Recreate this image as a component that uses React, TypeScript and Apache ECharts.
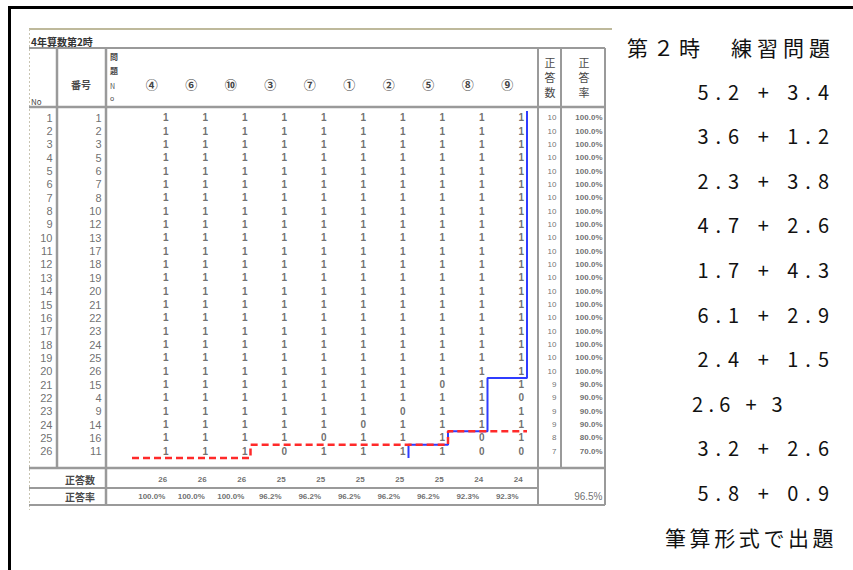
import React, { useEffect, useRef } from "react";
import * as echarts from "echarts";

// ---------- data ----------
const sheetTitle = "4年算数第2時";
const questionLabels = ["④", "⑥", "⑩", "③", "⑦", "①", "②", "⑤", "⑧", "⑨"];
const rowNos = [1, 2, 3, 4, 5, 6, 7, 8, 9, 10, 11, 12, 13, 14, 15, 16, 17, 18, 19, 20, 21, 22, 23, 24, 25, 26];
const studentIds = [1, 2, 3, 5, 6, 7, 8, 10, 12, 13, 17, 18, 19, 20, 21, 22, 23, 24, 25, 26, 15, 4, 9, 14, 16, 11];
const responses: number[][] = [
  [1, 1, 1, 1, 1, 1, 1, 1, 1, 1],
  [1, 1, 1, 1, 1, 1, 1, 1, 1, 1],
  [1, 1, 1, 1, 1, 1, 1, 1, 1, 1],
  [1, 1, 1, 1, 1, 1, 1, 1, 1, 1],
  [1, 1, 1, 1, 1, 1, 1, 1, 1, 1],
  [1, 1, 1, 1, 1, 1, 1, 1, 1, 1],
  [1, 1, 1, 1, 1, 1, 1, 1, 1, 1],
  [1, 1, 1, 1, 1, 1, 1, 1, 1, 1],
  [1, 1, 1, 1, 1, 1, 1, 1, 1, 1],
  [1, 1, 1, 1, 1, 1, 1, 1, 1, 1],
  [1, 1, 1, 1, 1, 1, 1, 1, 1, 1],
  [1, 1, 1, 1, 1, 1, 1, 1, 1, 1],
  [1, 1, 1, 1, 1, 1, 1, 1, 1, 1],
  [1, 1, 1, 1, 1, 1, 1, 1, 1, 1],
  [1, 1, 1, 1, 1, 1, 1, 1, 1, 1],
  [1, 1, 1, 1, 1, 1, 1, 1, 1, 1],
  [1, 1, 1, 1, 1, 1, 1, 1, 1, 1],
  [1, 1, 1, 1, 1, 1, 1, 1, 1, 1],
  [1, 1, 1, 1, 1, 1, 1, 1, 1, 1],
  [1, 1, 1, 1, 1, 1, 1, 1, 1, 1],
  [1, 1, 1, 1, 1, 1, 1, 0, 1, 1],
  [1, 1, 1, 1, 1, 1, 1, 1, 1, 0],
  [1, 1, 1, 1, 1, 1, 0, 1, 1, 1],
  [1, 1, 1, 1, 1, 0, 1, 1, 1, 1],
  [1, 1, 1, 1, 0, 1, 1, 1, 0, 1],
  [1, 1, 1, 0, 1, 1, 1, 1, 0, 0],
];
const studentCorrect = [10, 10, 10, 10, 10, 10, 10, 10, 10, 10, 10, 10, 10, 10, 10, 10, 10, 10, 10, 10, 9, 9, 9, 9, 8, 7];
const studentRate = [
  "100.0%", "100.0%", "100.0%", "100.0%", "100.0%", "100.0%", "100.0%", "100.0%", "100.0%", "100.0%",
  "100.0%", "100.0%", "100.0%", "100.0%", "100.0%", "100.0%", "100.0%", "100.0%", "100.0%", "100.0%",
  "90.0%", "90.0%", "90.0%", "90.0%", "80.0%", "70.0%",
];
const itemCorrect = [26, 26, 26, 25, 25, 25, 25, 25, 24, 24];
const itemRate = ["100.0%", "100.0%", "100.0%", "96.2%", "96.2%", "96.2%", "96.2%", "96.2%", "92.3%", "92.3%"];
const footerRows = ["正答数", "正答率"];
const overallRate = "96.5%";

const sideTitle = "第２時　練習問題";
const exercises = ["5.2 + 3.4", "3.6 + 1.2", "2.3 + 3.8", "4.7 + 2.6", "1.7 + 4.3", "6.1 + 2.9", "2.4 + 1.5", "2.6 + 3", "3.2 + 2.6", "5.8 + 0.9"];
const sideNote = "筆算形式で出題";

// ---------- helpers ----------
const CJK = '"Noto Sans CJK JP", "Noto Sans", sans-serif';
const TABLE_FONT = '"Liberation Sans", Arial, sans-serif';
const TXT = "#4a4a4a";

let measureCtx: CanvasRenderingContext2D | null = null;
function measure(ch: string, size: number) {
  if (!measureCtx) measureCtx = document.createElement("canvas").getContext("2d");
  measureCtx!.font = `${size}px "Noto Sans CJK JP"`;
  return measureCtx!.measureText(ch).width;
}
function spacedText(str: string, anchorX: number, y: number, size: number, spacing: number, align: "left" | "right") {
  const chars = Array.from(str);
  const widths = chars.map((c) => measure(c, size));
  const total = widths.reduce((a, b) => a + b, 0) + spacing * (chars.length - 1);
  let x = align === "left" ? anchorX : anchorX - total;
  const out: any[] = [];
  chars.forEach((c, k) => {
    if (c.trim()) {
      out.push({
        type: "text",
        x,
        y,
        style: { text: c, fontSize: size, fontFamily: CJK, fill: "#111", verticalAlign: "middle", align: "left" },
      });
    }
    x += widths[k] + spacing;
  });
  return out;
}

export default function App() {
  const ref = useRef<HTMLDivElement>(null);
  useEffect(() => {
    if (!ref.current) return;
    const chart = echarts.init(ref.current, null, { renderer: "svg" });

    const BODY_TOP = 111;
    const BODY_H = 347;
    const M_LEFT = 132;
    const M_W = 395;

    const sLine: number[][] = [];
    studentCorrect.forEach((s, i) => {
      sLine.push([s - 0.5, i - 0.5]);
      sLine.push([s - 0.5, i + 0.5]);
    });
    const pLine: number[][] = [];
    itemCorrect.forEach((c, j) => {
      pLine.push([j - 0.5, c - 0.5]);
      pLine.push([j + 0.5, c - 0.5]);
    });
    const cells: number[][] = [];
    responses.forEach((row, i) => row.forEach((v, j) => cells.push([j, i, v])));

    const hiddenVal = (gridIndex: number, min: number, max: number, inverse = false) => ({
      type: "value",
      gridIndex,
      min,
      max,
      inverse,
      show: false,
    });

    const labelScatter = (xi: number, yi: number, data: any[], label: any) => ({
      type: "scatter",
      xAxisIndex: xi,
      yAxisIndex: yi,
      symbolSize: 1,
      itemStyle: { color: "rgba(0,0,0,0)" },
      silent: true,
      data,
      label: {
        show: true,
        color: TXT,
        fontFamily: TABLE_FONT,
        fontSize: 10,
        fontWeight: "bold",
        formatter: (p: any) => String(p.value[2]),
        ...label,
      },
    });

    const line = (x1: number, y1: number, x2: number, y2: number, stroke = "#9a9a9a", w = 2) => ({
      type: "line",
      shape: { x1, y1, x2, y2 },
      style: { stroke, lineWidth: w },
      silent: true,
    });

    const txt = (text: string, x: number, y: number, size: number, extra: any = {}) => ({
      type: "text",
      x,
      y,
      style: { text, fontSize: size, fontFamily: CJK, fill: TXT, verticalAlign: "middle", align: "left", ...extra },
      silent: true,
    });

    const graphics: any[] = [
      // frame
      { type: "rect", shape: { x: 8, y: 6, width: 845, height: 3 }, style: { fill: "#000" } },
      { type: "rect", shape: { x: 8, y: 6, width: 3, height: 564 }, style: { fill: "#000" } },
      // scanned sheet edges
      line(29, 29, 612, 29, "#a8a27a", 1.5),
      { type: "line", shape: { x1: 29.5, y1: 29, x2: 29.5, y2: 510 }, style: { stroke: "#c9c5b2", lineWidth: 1, lineDash: [2, 2] } },
      // table rules
      line(29, 48, 605, 48),
      line(29, 107, 605, 107, "#9a9a9a", 2.5),
      line(29, 468, 605, 468, "#9a9a9a", 2.5),
      line(29, 488, 538, 488),
      line(29, 505, 605, 505),
      line(57, 48, 57, 468, "#9a9a9a", 2.5),
      line(106, 48, 106, 505, "#9a9a9a", 2.5),
      line(538, 48, 538, 505),
      line(561, 48, 561, 468),
      line(605, 48, 605, 505),
      // header texts
      txt(sheetTitle, 31, 41, 10, { fill: "#333", fontWeight: "bold" }),
      txt("No", 31, 101, 8),
      txt("番号", 81, 84, 10, { align: "center", fontWeight: "bold" }),
      txt("問", 110, 56, 8, { fontWeight: "bold" }),
      txt("題", 110, 70, 8, { fontWeight: "bold" }),
      txt("N", 110, 86, 7),
      txt("o", 110, 98, 7),
      txt("正", 550, 62, 11, { align: "center" }),
      txt("答", 550, 77, 11, { align: "center" }),
      txt("数", 550, 92, 11, { align: "center" }),
      txt("正", 584, 62, 11, { align: "center" }),
      txt("答", 584, 77, 11, { align: "center" }),
      txt("率", 584, 92, 11, { align: "center" }),
      // right panel
      ...spacedText(sideTitle, 627, 47, 21, 5, "left"),
      ...exercises.flatMap((e, k) =>
        e.length < 9
          ? spacedText(e, 692, 91 + 44.6 * k, 20, 5.3, "left")
          : spacedText(e, 829, 91 + 44.6 * k, 20, 7, "right")
      ),
      ...spacedText(sideNote, 665, 537, 21, 3.6, "left"),
    ];

    const option: any = {
      animation: false,
      backgroundColor: "#fff",
      grid: [
        { left: 29, top: BODY_TOP, width: 28, height: BODY_H },
        { left: 57, top: BODY_TOP, width: 49, height: BODY_H },
        { left: M_LEFT, top: BODY_TOP, width: M_W, height: BODY_H },
        { left: 538, top: BODY_TOP, width: 23, height: BODY_H },
        { left: 561, top: BODY_TOP, width: 44, height: BODY_H },
        { left: M_LEFT, top: 471, width: M_W, height: 34 },
        { left: 538, top: 471, width: 67, height: 34 },
      ],
      xAxis: [
        hiddenVal(0, 0, 1),
        hiddenVal(1, 0, 1),
        hiddenVal(2, -0.5, 9.5),
        hiddenVal(3, 0, 1),
        hiddenVal(4, 0, 1),
        hiddenVal(5, -0.5, 9.5),
        hiddenVal(6, 0, 1),
        {
          type: "category",
          gridIndex: 2,
          position: "top",
          data: questionLabels,
          axisLine: { show: false },
          axisTick: { show: false },
          axisLabel: { margin: 21, fontSize: 12, fontFamily: CJK, color: "#444", fontWeight: "bold" },
        },
      ],
      yAxis: [
        hiddenVal(0, -0.5, 25.5, true),
        hiddenVal(1, -0.5, 25.5, true),
        hiddenVal(2, -0.5, 25.5, true),
        hiddenVal(3, -0.5, 25.5, true),
        hiddenVal(4, -0.5, 25.5, true),
        {
          type: "category",
          gridIndex: 5,
          inverse: true,
          data: footerRows,
          axisLine: { show: false },
          axisTick: { show: false },
          axisLabel: { margin: 37, fontSize: 10, fontFamily: CJK, color: TXT, fontWeight: "bold" },
        },
        { type: "category", gridIndex: 6, inverse: true, data: footerRows, show: false },
      ],
      series: [
        labelScatter(0, 0, rowNos.map((n, i) => [1, i, n]), { position: "left", distance: 4, fontWeight: "normal", fontSize: 11 }),
        labelScatter(1, 1, studentIds.map((n, i) => [1, i, n]), { position: "left", distance: 4, fontWeight: "normal", fontSize: 11 }),
        labelScatter(2, 2, cells, { position: "inside", offset: [14, 0] }),
        labelScatter(3, 3, studentCorrect.map((n, i) => [1, i, n]), { position: "left", distance: 4, fontSize: 8, fontWeight: "normal" }),
        labelScatter(4, 4, studentRate.map((n, i) => [1, i, n]), { position: "left", distance: 2, fontSize: 8 }),
        labelScatter(5, 5, itemCorrect.map((n, j) => [j, 0, n]), { position: "inside", offset: [11, 0], fontSize: 8 }),
        labelScatter(5, 5, itemRate.map((n, j) => [j, 1, n]), { position: "inside", offset: [0, 0], fontSize: 8 }),
        labelScatter(6, 6, [[1, 1, overallRate]], { position: "left", distance: 2, fontSize: 10, fontWeight: "normal" }),
        {
          type: "line",
          xAxisIndex: 2,
          yAxisIndex: 2,
          data: sLine,
          symbol: "none",
          clip: false,
          silent: true,
          lineStyle: { color: "#2f3cff", width: 2 },
          z: 3,
        },
        {
          type: "line",
          xAxisIndex: 2,
          yAxisIndex: 2,
          data: pLine,
          symbol: "none",
          clip: false,
          silent: true,
          lineStyle: { color: "#ff2a2a", width: 2.5, type: [7, 4] },
          z: 4,
        },
      ],
      graphic: graphics,
    };
    chart.setOption(option);
    return () => chart.dispose();
  }, []);
  return (
    <div
      ref={ref}
      style={{ position: "absolute", left: 0, top: 0, width: 853, height: 570, background: "#fff" }}
    />
  );
}
